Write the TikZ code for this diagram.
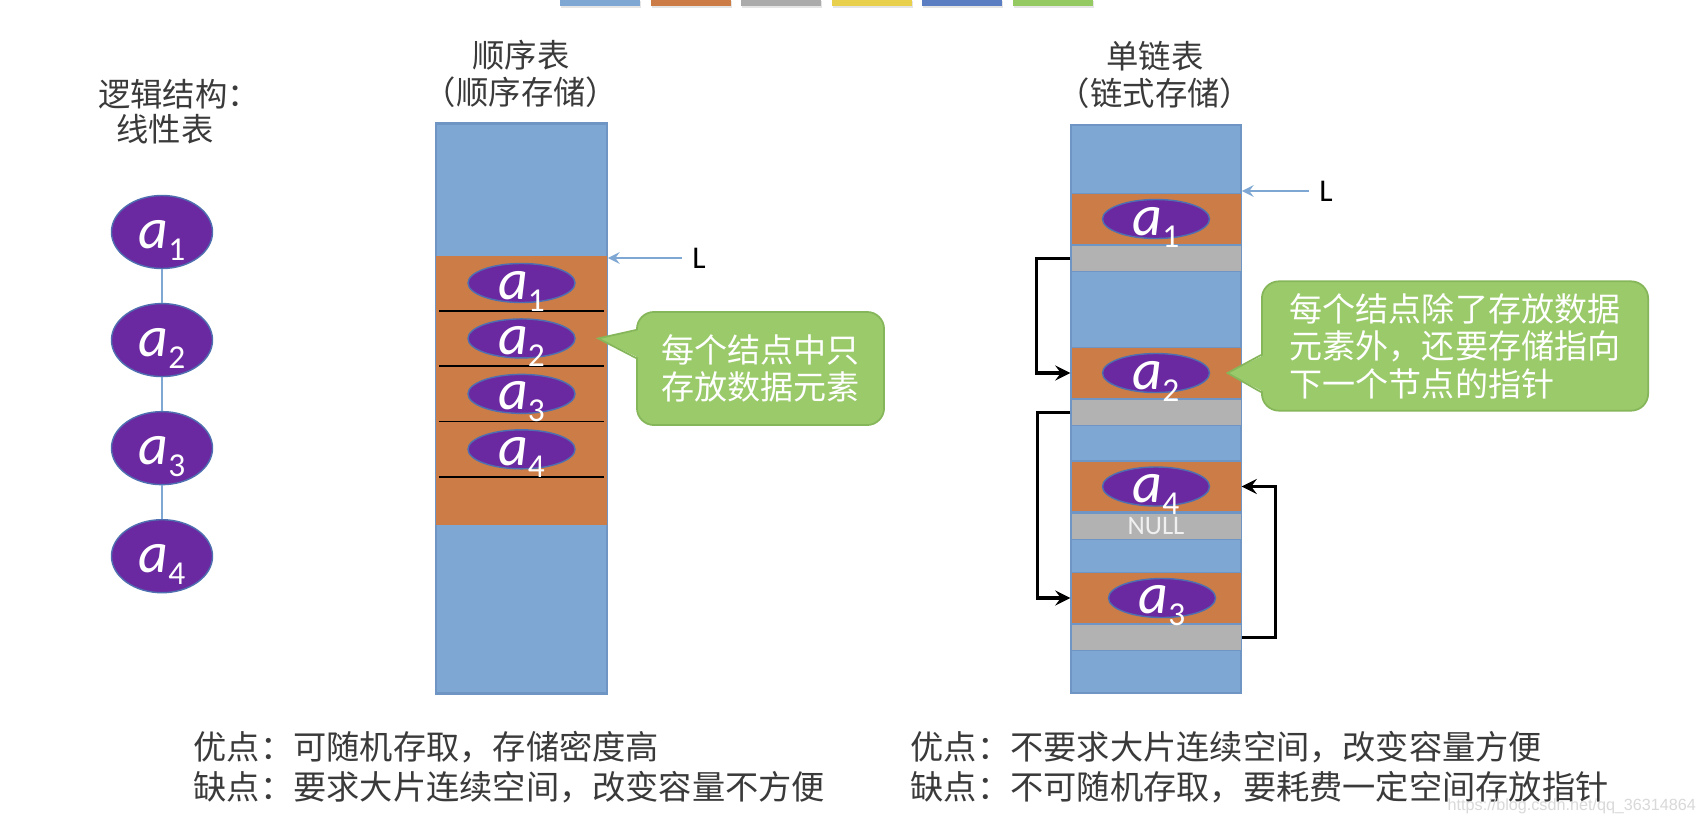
\documentclass[tikz,border=0pt]{standalone}
\usepackage{fontspec}
\setmainfont{Noto Sans CJK SC}
\newfontfamily\calfont{Carlito}
\newfontfamily\wmfont{Liberation Sans}
\usepackage{tikz}
\usetikzlibrary{arrows,shapes}
\usetikzlibrary{positioning}
\definecolor{memblue}{HTML}{7FA7D3}
\definecolor{bandedge}{HTML}{6F95C4}
\definecolor{dataorange}{HTML}{CC7C47}
\definecolor{ptrgray}{HTML}{B2B2B2}
\definecolor{eltpurple}{HTML}{6A29A0}
\definecolor{eltedge}{HTML}{4F70B0}
\definecolor{notegreen}{HTML}{9ACA69}
\definecolor{noteedge}{HTML}{86B65A}
\definecolor{inkgray}{HTML}{3A3A3A}
\definecolor{baryellow}{HTML}{E8CF4C}
\definecolor{bardarkblue}{HTML}{5B7DC1}
\definecolor{bargreen}{HTML}{95C962}
\definecolor{bargray}{HTML}{ABABAB}
\newcommand{\elem}[1]{{\calfont\itshape\fontsize{16.5}{17}\selectfont a}\raisebox{-0.12cm}{\calfont\fontsize{9.5}{10}\selectfont #1}}

\begin{document}
\begin{tikzpicture}[x=0.01cm,y=-0.01cm,>=stealth,node distance=1.08cm,
      elt/.style={ellipse,fill=eltpurple,draw=eltedge,line width=0.4pt,inner sep=0pt,minimum width=1.07cm,minimum height=0.39cm},
      bigelt/.style={elt,minimum width=1.01cm,minimum height=0.73cm},
      eltext/.style={label={[text=white,yshift=-0.08cm]center:\elem{#1}}},
      memcol/.style={rectangle,fill=memblue,draw=bandedge,line width=0.4pt,inner sep=0pt,minimum width=1.71cm,minimum height=5.69cm},
      databand/.style={rectangle,fill=dataorange,draw=bandedge,line width=0.3pt,inner sep=0pt,minimum width=1.70cm,minimum height=0.51cm},
      ptrband/.style={databand,fill=ptrgray,minimum height=0.26cm,text=white!94!black,font=\calfont\fontsize{7.6}{8}\selectfont},
      cell/.style={rectangle,inner sep=0pt,minimum width=1.64cm,minimum height=0.54cm},
      lbl/.style={inner sep=1mm,font=\calfont\fontsize{9}{10}\selectfont},
      lptr/.style={->,draw=memblue,line width=0.5pt},
      ptr/.style={->,line width=0.9pt},
      link/.style={draw=memblue,line width=0.8pt},
      note/.style={rectangle,rounded corners=0.17cm,fill=notegreen,draw=noteedge,line width=0.5pt,text=white,font=\fontsize{9.4}{10.7}\selectfont},
      heading/.style={text=inkgray,align=center,font=\fontsize{9.2}{10.5}\selectfont},
      remark/.style={anchor=west,inner sep=0pt,text=inkgray,font=\fontsize{9.45}{11}\selectfont}]
      \fill[white] (0,0) rectangle (1698,824);
      \foreach \c [count=\i from 0] in {memblue,dataorange,bargray,baryellow,bardarkblue,bargreen}{
        \fill[black!10] (561+\i*90.6,1) rectangle ++(80,7);
        \fill[\c] (560+\i*90.6,0) rectangle ++(80,6);
      }
      \node[heading] (logic) at (179,94) {逻辑结构：};
      \node[heading] (linear) at (165,129) {线性表};
      \node[heading] (seqtitle) at (521,73.5) {顺序表\\（顺序存储）};
      \node[heading] (linktitle) at (1155,75) {单链表\\（链式存储）};
      \node[bigelt,eltext=1] (l1) at (162,232) {};
      \node[bigelt,eltext=2,below of=l1] (l2) {};
      \node[bigelt,eltext=3,below of=l2] (l3) {};
      \node[bigelt,eltext=4,below of=l3] (l4) {};
      \path
        (l1) edge[link] (l2)
        (l2) edge[link] (l3)
        (l3) edge[link] (l4)
        ;
      \node[memcol] (mem1) at (521.5,408.5) {};
      \node[rectangle,fill=dataorange,inner sep=0pt,minimum width=1.71cm,minimum height=2.69cm] (blk) at (521.5,390.5) {};
      \draw[bandedge,line width=0.4pt] (mem1.north west) rectangle (mem1.south east);
      \node[cell] (c1) at (521.5,283) {};
      \node[cell,below=0pt of c1] (c2) {};
      \node[cell,below=0pt of c2] (c3) {};
      \node[cell,below=0pt of c3] (c4) {};
      \foreach \c in {c1,c2,c3,c4} \draw[line width=0.5pt] (\c.south west) -- (\c.south east);
      \foreach \i in {1,...,4} \node[elt,eltext=\i] (s\i) at (c\i) {};
      \node[lbl] (L1) at (699,258) {L};
      \draw[lptr] (L1) -- (L1 -| mem1.east);
      \node[note,align=center,minimum width=2.47cm,minimum height=1.13cm] (n1) at (760.5,368.5) {每个结点中只\\存放数据元素};
      \fill[notegreen] ([xshift=0.03cm,yshift=0.385cm]n1.west) -- ([xshift=-0.06cm]c2.east) -- ([xshift=0.03cm,yshift=0.105cm]n1.west) -- cycle;
      \draw[noteedge,line width=0.5pt] ([yshift=0.385cm]n1.west) -- ([xshift=-0.06cm]c2.east) -- ([yshift=0.105cm]n1.west);
      \node[memcol,minimum width=1.70cm,minimum height=5.68cm] (mem2) at (1156,409) {};
      \node[databand] (d1) at (1156,219) {};
      \node[ptrband,below=0pt of d1] (p1) {};
      \node[databand] (d2) at (1156,373) {};
      \node[ptrband,below=0pt of d2] (p2) {};
      \node[databand] (d4) at (1156,486.5) {};
      \node[ptrband,below=0pt of d4] (p4) {NULL};
      \node[databand] (d3) at (1156,598) {};
      \node[ptrband,below=0pt of d3] (p3) {};
      \node[elt,eltext=1] (e1) at (d1) {};
      \node[elt,eltext=2] (e2) at (d2) {};
      \node[elt,eltext=4] (e4) at (d4) {};
      \node[elt,eltext=3] (e3) at ([xshift=0.06cm]d3.center) {};
      \node[lbl] (L2) at (1326,191) {L};
      \draw[lptr] (L2) -- (L2 -| mem2.east);
      \draw[ptr] (p1.west) -- ++(-34,0) |- (d2.west);
      \draw[ptr] (p2.west) -- ++(-33,0) |- (d3.west);
      \draw[ptr] (p3.east) -- ++(34,0) |- (d4.east);
      \node[note,align=left,minimum width=3.86cm,minimum height=1.26cm] (n2) at (1455,346) {每个结点除了存放数据\\元素外，还要存储指向\\下一个节点的指针};
      \fill[notegreen] ([xshift=0.03cm,yshift=-0.09cm]n2.west) -- ([xshift=-0.14cm]d2.east) -- ([xshift=0.03cm,yshift=-0.46cm]n2.west) -- cycle;
      \draw[noteedge,line width=0.5pt] ([yshift=-0.09cm]n2.west) -- ([xshift=-0.14cm]d2.east) -- ([yshift=-0.46cm]n2.west);
      \node[remark] (pro1) at (193,747) {优点：可随机存取，存储密度高};
      \node[remark] (con1) at (193,787) {缺点：要求大片连续空间，改变容量不方便};
      \node[remark] (pro2) at (910,747) {优点：不要求大片连续空间，改变容量方便};
      \node[remark] (con2) at (910,787) {缺点：不可随机存取，要耗费一定空间存放指针};
      \node[anchor=west,inner sep=0pt,text=black!15,font=\wmfont\fontsize{4.6}{5}\selectfont] (mark) at (1447,806) {https://blog.csdn.net/qq\_36314864};
    \end{tikzpicture}
\end{document}
